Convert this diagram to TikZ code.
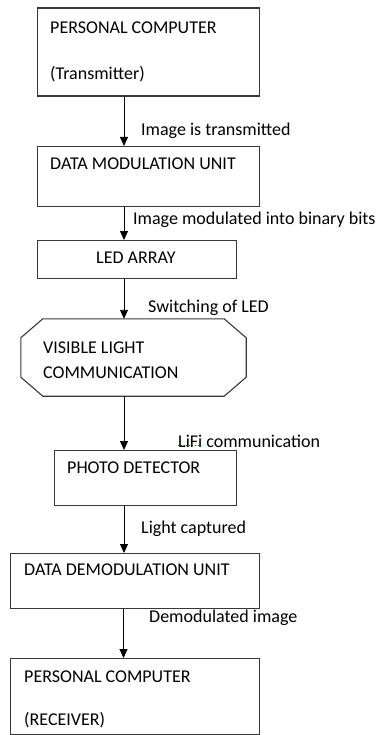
\documentclass[tikz,border=0pt]{standalone}
\usepackage{fontspec}
\setmainfont{Carlito}
\usetikzlibrary{arrows.meta}
\begin{document}
\begin{tikzpicture}[x=1pt,y=-1pt,
  box/.style={draw=black!78,line width=1.1pt,inner sep=0pt,anchor=north west},
  txt/.style={anchor=west,inner sep=0pt,font=\fontsize{18}{21}\selectfont},
  lbl/.style={anchor=west,inner sep=0pt,font=\fontsize{18}{21}\selectfont},
  arr/.style={draw=black,line width=0.9pt,-{Triangle[width=8pt,length=9pt]}}]
\useasboundingbox (0,0) rectangle (377,735);
\node[box,minimum width=222pt,minimum height=88pt] (b1) at (37,7.5) {};
\node[box,minimum width=222pt,minimum height=60pt] (b2) at (37,146) {};
\node[box,minimum width=199pt,minimum height=38pt] (b3) at (37,240) {};
% octagon
\node[inner sep=0pt,minimum width=225pt,minimum height=77pt] (b4) at (133.5,357.5) {};
\draw[draw=black!78,line width=1.1pt]
  ([xshift=22pt]b4.north west) -- ([xshift=-22pt]b4.north east)
  -- ([yshift=-19pt]b4.north east) -- ([yshift=19pt]b4.south east)
  -- ([xshift=-22pt]b4.south east) -- ([xshift=22pt]b4.south west)
  -- ([yshift=19pt]b4.south west) -- ([yshift=-19pt]b4.north west) -- cycle;
\node[box,minimum width=182pt,minimum height=55pt] (b5) at (54,450) {};
\node[box,minimum width=249pt,minimum height=55pt] (b6) at (10,553) {};
\node[box,minimum width=249pt,minimum height=76pt] (b7) at (10,658) {};
% texts
\node[txt] (t1a) at (50,28) {PERSONAL COMPUTER};
\node[txt] (t1b) at (50,74) {(Transmitter)};
\node[txt] (t2) at (50,164) {DATA MODULATION UNIT};
\node[txt] (t3) at (96,258) {LED ARRAY};
\node[txt] (t4a) at (43,348) {VISIBLE LIGHT};
\node[txt] (t4b) at (43,373) {COMMUNICATION};
\node[txt] (t5) at (67,468) {PHOTO DETECTOR};
\node[txt] (t6) at (24,570) {DATA DEMODULATION UNIT};
\node[txt] (t7a) at (24,677) {PERSONAL COMPUTER};
\node[txt] (t7b) at (24,720) {(RECEIVER)};
% arrow column
\coordinate (ax) at (124,0);
\coordinate (ax2) at (123.5,0);
\draw[arr] (b1.south -| ax) -- (b2.north -| ax);
\draw[arr] (b2.south -| ax) -- (b3.north -| ax);
\draw[arr] (b3.south -| ax) -- (b4.north -| ax);
\draw[arr] (b4.south -| ax) -- (b5.north -| ax);
\draw[arr] (b5.south -| ax) -- (b6.north -| ax);
\draw[arr] (b6.south -| ax2) -- (b7.north -| ax2);
% labels
\node[lbl] (l1) at (141,131) {Image is transmitted};
\node[lbl] (l2) at (133,220) {Image modulated into binary bits};
\node[lbl] (l3) at (148,308) {Switching of LED};
\node[lbl] (l4) at (178,441) {LiFi communication};
\draw[red!80!black,line width=0.8pt,dotted] ([yshift=2pt]l4.south west) -- ++(24,0);
\node[lbl] (l5) at (141,529) {Light captured};
\node[lbl] (l6) at (149,618) {Demodulated image};
\end{tikzpicture}
\end{document}
